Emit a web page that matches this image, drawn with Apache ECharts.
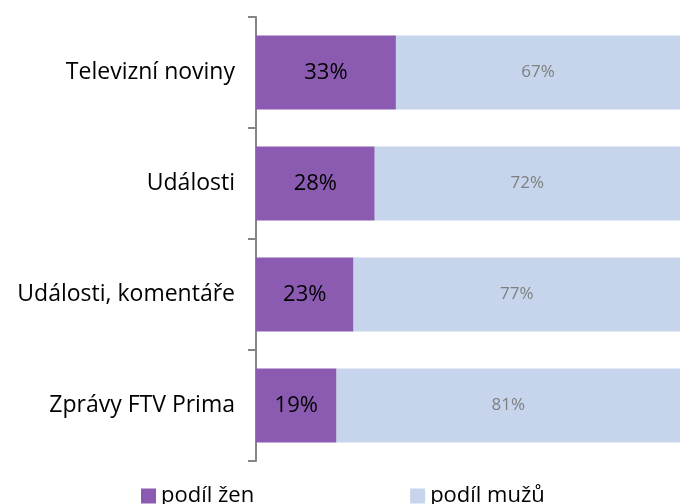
<!DOCTYPE html>
<html>
<head>
<meta charset="UTF-8">
<script src="https://cdn.jsdelivr.net/npm/echarts@6/dist/echarts.min.js"></script>
<style>body{margin:0}#c{width:680px;height:504px}</style>
</head>
<body>
<div id="c"></div>
<script>
var categories = ['Televizní noviny', 'Události', 'Události, komentáře', 'Zprávy FTV Prima'];
var zeny = [33, 28, 23, 19];
var muzi = [67, 72, 77, 81];

var chart = echarts.init(document.getElementById('c'));
var font = 'Open Sans';
chart.setOption({
	animation: false,
	textStyle: {fontFamily: font},
	grid: {left: 256, right: 0, top: 17, bottom: 43},
	legend: {
		top: 480, left: 136,
		itemWidth: 15, itemHeight: 15, itemGap: 156,
		icon: 'rect',
		textStyle: {fontSize: 22, color: '#000', fontFamily: font},
		data: ['podíl žen', 'podíl mužů']
	},
	xAxis: {type: 'value', min: 0, max: 100, show: false},
	yAxis: {
		type: 'category', inverse: true, data: categories,
		axisLine: {lineStyle: {color: '#868686', width: 2}},
		axisTick: {show: true, length: 8, lineStyle: {color: '#868686', width: 2}},
		axisLabel: {fontSize: 23, color: '#000', margin: 21, fontFamily: font}
	},
	series: [
		{name: 'podíl žen', type: 'bar', stack: 's', data: zeny, barWidth: 74,
		 itemStyle: {color: '#8B5AB1'},
		 label: {show: true, formatter: '{c}%', fontSize: 22, color: '#000', fontFamily: font}},
		{name: 'podíl mužů', type: 'bar', stack: 's', data: muzi, barWidth: 74,
		 itemStyle: {color: '#C6D4EC'},
		 label: {show: true, formatter: '{c}%', fontSize: 17, color: '#7F7F7F', fontFamily: font}}
	]
});
</script>
</body>
</html>
